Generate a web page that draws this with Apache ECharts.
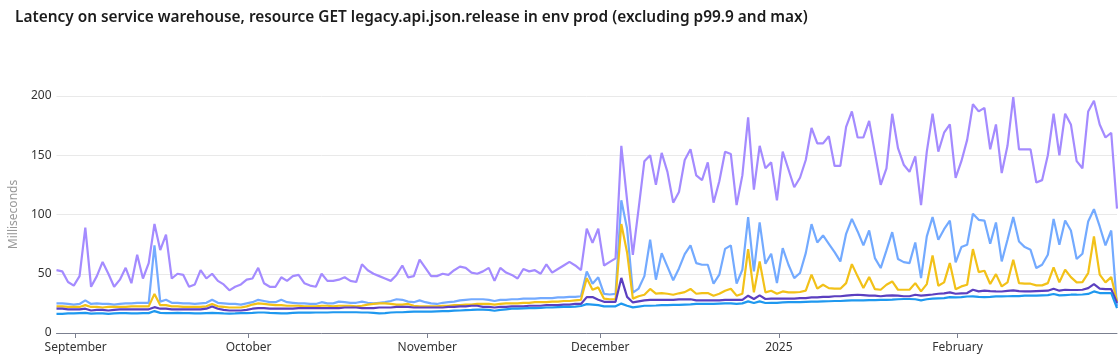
<!DOCTYPE html>
<html>
<head>
<meta charset="utf-8">
<script src="https://cdn.jsdelivr.net/npm/echarts@6/dist/echarts.min.js"></script>
<style>
html,body{margin:0;padding:0;background:#fff;}
#chart{width:1120px;height:360px;}
</style>
</head>
<body>
<div id="chart"></div>
<script>
// First sample timestamp (daily samples)
const firstSample = [2024, 7, 28, 16]; // Aug 28 2024, 16:00 local
const sampleCount = 185;
const monthLabels = ['January','February','March','April','May','June','July','August','September','October','November','December'];
const yTicks = [0, 50, 100, 150, 200];

const p99 = [
53,52,43,40,48,89,39,48,60,50,39,45,55,42,66,46,59,92,70,83,46,50,49,39,41,53,46,50,44,41,36,39,41,45,46,55,42,
39,39,47,44,48,49,42,40,39,50,44,44,45,47,44,43,58,53,50,48,46,44,49,57,47,48,62,55,48,48,50,49,53,56,55,51,50,
52,55,44,55,51,49,46,54,52,53,50,58,51,54,57,60,57,53,88,76,88,57,60,63,158,112,66,105,145,150,125,152,136,110,119,146,155,
133,129,144,110,128,153,151,108,133,182,121,158,139,144,112,153,138,123,131,146,173,160,160,166,141,141,174,187,165,165,179,152,125,139,185,156,142,
136,149,108,153,185,153,169,176,131,145,163,193,187,190,155,176,135,158,199,155,155,155,127,129,150,185,150,185,176,145,139,187,196,176,165,169,105
];
const p95 = [
25,25,24.5,24,24.5,27.5,24.5,25,24.5,24.5,24,24.5,25,25,25.5,25.5,25.5,74,26.5,28,25.5,25.5,25,25,24.5,25,25.5,28,25.5,25,24.5,24.5,24,25,26,28,27,
26,26,28,26,25.5,25,25,24.5,24.5,26,25,25,26.5,26,25.5,25.5,26.5,25.5,25,25.5,26,27,28.5,28,26.5,26,27.5,26,25,24.5,25.5,26,26.5,27.5,28,28.5,28.5,
28.5,28,27,28,28,28.5,28.5,29,29,29,29.5,29.5,29.5,30,30,30.5,30.5,31,52,41.5,47,33,32.5,33,112,88,34,37.5,48,78.7,45,67.4,56,44.5,54.5,66.5,74,
59,57.6,57.6,41.6,49.2,71,73.9,41.6,53.4,97.8,52,93.3,58.4,66.9,42.1,71.6,57.6,46.3,50.6,67.4,91.9,76.4,82.3,75.3,68.3,60.4,83.7,96.3,85.7,73.9,86.5,63.2,54.8,69.7,85.1,62.4,59.8,
59,76.4,46.3,81.5,97.8,78.7,87.6,94.9,59.6,72.5,74.4,100.6,95.5,94.9,75.3,93.3,60.4,78.7,97.8,77.2,72.5,70.2,54.8,57.6,66,96.3,74.4,94.9,86.5,62.4,66.9,94.1,104.5,89.9,73.9,86.5,22.5
];
const p90 = [
22.5,22.5,22,22,22,23.5,22,22,21.5,22,22,22,22,22.5,22.5,22.5,22.5,33,23.5,23.5,22.5,22.5,22,22,22,22,22.5,24.5,22.5,22,21.5,21.5,21.5,22.5,24,25,24.5,
24,23.5,23.5,23,23,23,22.5,22.5,22.5,23,23,22.5,23,23,23,22.5,23,24,24.5,25,25,24.5,24,24,24.5,23,22.5,22.5,22.5,22.5,23,23,23.5,23.5,24,24,24.5,
24.5,24.5,24,24.5,25,25,25,25.5,25.5,26,26,26,26.5,26.5,27,27,27.5,28,46.3,36.5,38.5,29,28.5,28.5,92,68,29,31,32.3,37.2,33.3,33.7,33.1,32.3,33.5,34.5,37.2,
33.1,33.7,33.7,31.5,33.1,35.7,37.4,31.5,33.1,70.8,34.3,60.4,34.3,35.7,33.1,35.1,34.3,34.3,34.6,35.7,49.2,37.4,40.7,37.9,37.4,37.4,42.1,58.1,47.8,37.9,47.2,37,36.5,40.7,43.5,36.5,36.5,
36.5,42.1,35.1,41.3,65.4,39.9,42.7,59,37,39.3,40.7,70.8,51.4,52.5,41.3,49.7,39.3,42.7,61.8,42.1,41.6,41.6,40.2,40.2,42.1,55.3,42.7,53.4,47.2,42.7,43,50.6,81.5,49.2,42.7,47.2,26.7
];
const p75 = [
20.5,20.5,20,20,20,20.5,19,19.5,19.5,19,19.5,20,20,20,20,20,20,21.8,20.5,20.5,20,20,20,20,20,20,20.5,22.3,20.5,19.5,19,19,19,19.5,20.5,21,21,
20.5,20.5,20.5,20.5,20.5,21,21,21,21,21,21,21,21,21.5,21.5,21.5,21,21,21,21.5,21.5,21.5,22,22,22,21.5,21.5,21.5,21.5,21.5,21.5,22,22,22.5,22.5,23,23,
22,22,21.5,22,22,22.5,22.5,22.5,23,23,23,23.5,23.5,23.5,24,24,24.5,24.5,30.3,30.3,28,26.3,26.3,26.3,46.5,30.5,25.8,26.7,27.5,28,28,28,28,28,28.3,28.3,28.5,
27.5,27.5,27.5,27.5,27.5,28,28,28,28,31.5,28.7,31.7,28.7,29,29,29,29,29,29.5,29.5,30,30,30.5,30.5,31,31,31.5,32,32.3,32,31.5,31.5,31,31.5,31.7,31.5,31,
31,32.3,31.5,32,32.5,33.1,33.5,34.3,33.1,33.5,33.7,36.5,35.1,35.7,35.3,35.1,35,35.5,36,35.3,35.1,35.1,35.3,35.5,35.7,37.4,35.7,36.5,36.3,36.3,36.5,37.9,41.3,37.4,37,37,25.3
];
const p50 = [
16.2,16.2,16.5,16.5,16.8,17,16.3,16.5,16.5,16.2,16.5,16.8,16.8,16.5,16.5,16.8,16.8,18.5,17,16.8,16.8,17,16.8,16.8,16.5,16.5,16.8,17,16.8,16.5,16.3,16.5,16.8,16.8,17,17.3,17.3,
17,16.8,16.5,16.5,17,17.2,17.2,17.2,17.3,17.3,17.3,17.5,17.5,17.5,17.5,17.5,17.3,17.3,17,16.5,16.8,17.3,17.5,17.5,17.8,18,18,18,18,18.3,18.5,18.5,18.8,19,19.3,19.5,19.8,
19.8,19.5,18.8,19.5,20,20.5,20.5,20.8,21,21,21.2,21.5,21.5,21.8,22,22,22.3,22.8,24.4,24,23.5,22.5,22.5,22.5,24.8,23,21.6,22.3,23,23,23.2,23.5,23.5,23.8,23.8,24,24.2,
24.5,24.5,24.5,24.5,24.8,25,25,24.5,25,26.7,25.3,26.7,25.3,25.5,25.5,25.8,26,26,26,26.3,26.5,26.5,26.7,26.8,27,27,27.3,27.5,27.5,27.5,27.8,27.8,28,28,28.2,28.5,28.7,
28.7,28.5,27.5,28.5,29,29.3,29.5,30.3,30,30.3,30.8,30.9,30.5,30.3,30.5,30.9,30.9,31,31.2,31.2,31.5,31.5,31.5,31.8,32,32.9,31.7,32,32.3,32.3,32.5,33,35.1,33.7,33.7,33.7,21
];

const dates = [];
for (let i = 0; i < sampleCount; i++) {
  dates.push(new Date(firstSample[0], firstSample[1], firstSample[2] + i, firstSample[3]).getTime());
}
const pair = arr => arr.map((v, i) => [dates[i], v]);

const seriesDefs = [
  {name: 'p99', data: p99, color: '#a48bff'},
  {name: 'p95', data: p95, color: '#73aaff'},
  {name: 'p90', data: p90, color: '#f2c118'},
  {name: 'p75', data: p75, color: '#5b3fc0'},
  {name: 'p50', data: p50, color: '#1f98ef'}
];

const chart = echarts.init(document.getElementById('chart'), null, {renderer: 'canvas'});
chart.setOption({
  animation: false,
  backgroundColor: '#fff',
  title: {
    text: 'Latency on service warehouse, resource GET legacy.api.json.release in env prod (excluding p99.9 and max)',
    left: 15, top: 10, padding: 0,
    textStyle: {fontFamily: 'Noto Sans', fontSize: 15.4, fontWeight: 600, color: '#1b1b1b'}
  },
  grid: {left: 52, right: 3, top: 96, bottom: 27, containLabel: false},
  xAxis: {
    type: 'time',
    min: dates[0],
    max: dates[sampleCount - 1],
    minInterval: 28 * 86400000,
    splitNumber: 6,
    axisLine: {lineStyle: {color: '#7b8090', width: 1}},
    axisTick: {show: true, length: 5, lineStyle: {color: '#7b8090'}},
    splitLine: {show: false},
    axisLabel: {
      fontFamily: 'Noto Sans', fontSize: 12, color: '#333', margin: 9,
      formatter: function (v) {
        const d = new Date(v);
        return d.getMonth() === 0 ? String(d.getFullYear()) : monthLabels[d.getMonth()];
      }
    }
  },
  yAxis: {
    type: 'value',
    min: yTicks[0], max: yTicks[yTicks.length - 1], interval: 50,
    name: 'Milliseconds',
    nameLocation: 'middle',
    nameGap: 35,
    nameTextStyle: {fontFamily: 'Noto Sans', fontSize: 12, color: '#999'},
    axisLine: {show: false},
    axisTick: {show: false},
    splitLine: {lineStyle: {color: '#e9e9e9', width: 1}},
    axisLabel: {fontFamily: 'Noto Sans', fontSize: 12, color: '#333', margin: 5}
  },
  series: seriesDefs.map(s => ({
    name: s.name,
    type: 'line',
    data: pair(s.data),
    showSymbol: false,
    symbol: 'none',
    lineStyle: {color: s.color, width: 2.2},
    itemStyle: {color: s.color},
    emphasis: {disabled: true}
  }))
});
</script>
</body>
</html>
